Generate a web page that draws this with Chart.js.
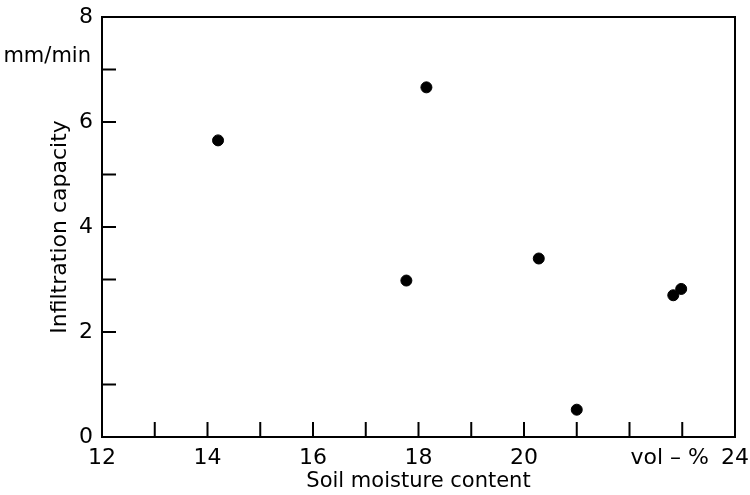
<!DOCTYPE html>
<html>
<head>
<meta charset="utf-8">
<script src="https://cdn.jsdelivr.net/npm/chart.js@4/dist/chart.umd.min.js"></script>
<style>
  body { margin: 0; background: #fff; }
</style>
</head>
<body>
<canvas id="chart" width="750" height="495"></canvas>
<script>
// soil moisture (vol-%) vs infiltration capacity (mm/min)
const moisture = [14.2, 17.77, 18.15, 20.28, 21.0, 22.83, 22.98];
const infiltration = [5.65, 2.98, 6.66, 3.4, 0.52, 2.7, 2.82];

const xMin = 12, xMax = 24;
const yMin = 0, yMax = 8;
const xLabels = [12, 14, 16, 18, 20, 24];
const yLabels = [0, 2, 4, 6, 8];
const xUnit = "vol – %";
const yUnit = "mm/min";

const FONT = "'DejaVu Sans', 'Liberation Sans', sans-serif";

// ticks pointing into the plot + top/right frame + unit labels
const framePlugin = {
  id: "frame",
  afterDraw(chart) {
    const { ctx, chartArea: a, scales } = chart;
    const xs = scales.x, ys = scales.y;
    ctx.save();
    ctx.strokeStyle = "#000";
    ctx.lineWidth = 2;
    ctx.beginPath();
    ctx.moveTo(a.left, a.top);
    ctx.lineTo(a.right, a.top);
    ctx.lineTo(a.right, a.bottom);
    xs.ticks.forEach(t => {
      const px = xs.getPixelForValue(t.value);
      if (t.value === xMin || t.value === xMax) return;
      ctx.moveTo(px, a.bottom);
      ctx.lineTo(px, a.bottom - 15);
    });
    ys.ticks.forEach(t => {
      const py = ys.getPixelForValue(t.value);
      if (t.value === yMin || t.value === yMax) return;
      ctx.moveTo(a.left, py);
      ctx.lineTo(a.left + 14, py);
    });
    ctx.stroke();

    ctx.fillStyle = "#000";
    ctx.font = "21px " + FONT;
    ctx.textAlign = "right";
    ctx.textBaseline = "middle";
    ctx.fillText(yUnit, a.left - 11, ys.getPixelForValue(7.25));
    ctx.font = "22px " + FONT;
    ctx.textBaseline = "top";
    ctx.fillText(xUnit, xs.getPixelForValue(xMax) - 26, a.bottom + 10);
    ctx.restore();
  }
};

new Chart(document.getElementById("chart"), {
  type: "scatter",
  data: {
    datasets: [{
      data: moisture.map((m, i) => ({ x: m, y: infiltration[i] })),
      backgroundColor: "#000",
      borderColor: "#000",
      pointRadius: 5.5,
      pointHoverRadius: 5.5
    }]
  },
  options: {
    responsive: false,
    animation: false,
    layout: { padding: { top: 17, right: 15, left: 0, bottom: 0 } },
    plugins: { legend: { display: false }, tooltip: { enabled: false } },
    scales: {
      x: {
        type: "linear",
        min: xMin,
        max: xMax,
        grid: { display: false, drawTicks: false },
        border: { display: true, color: "#000", width: 2 },
        ticks: {
          stepSize: 1,
          autoSkip: false,
          maxRotation: 0,
          padding: 8,
          color: "#000",
          font: { family: FONT, size: 22 },
          callback: v => (xLabels.includes(v) ? String(v) : "")
        },
        title: {
          display: true,
          text: "Soil moisture content",
          color: "#000",
          font: { family: FONT, size: 21 },
          padding: { top: 0, bottom: 1 }
        },
        afterFit: s => {
          s.height = 58;
          s.paddingLeft = 0;
          s.paddingRight = 0;
        }
      },
      y: {
        type: "linear",
        min: yMin,
        max: yMax,
        grid: { display: false, drawTicks: false },
        border: { display: true, color: "#000", width: 2 },
        ticks: {
          stepSize: 1,
          autoSkip: false,
          padding: 9,
          color: "#000",
          font: { family: FONT, size: 22 },
          callback: v => (yLabels.includes(v) ? String(v) : "")
        },
        title: {
          display: true,
          text: "Infiltration capacity",
          color: "#000",
          font: { family: FONT, size: 22 },
          padding: { top: 47, bottom: 0 }
        },
        afterFit: s => {
          s.width = 102;
          s.paddingTop = 0;
          s.paddingBottom = 0;
        }
      }
    }
  },
  plugins: [framePlugin]
});
</script>
</body>
</html>
